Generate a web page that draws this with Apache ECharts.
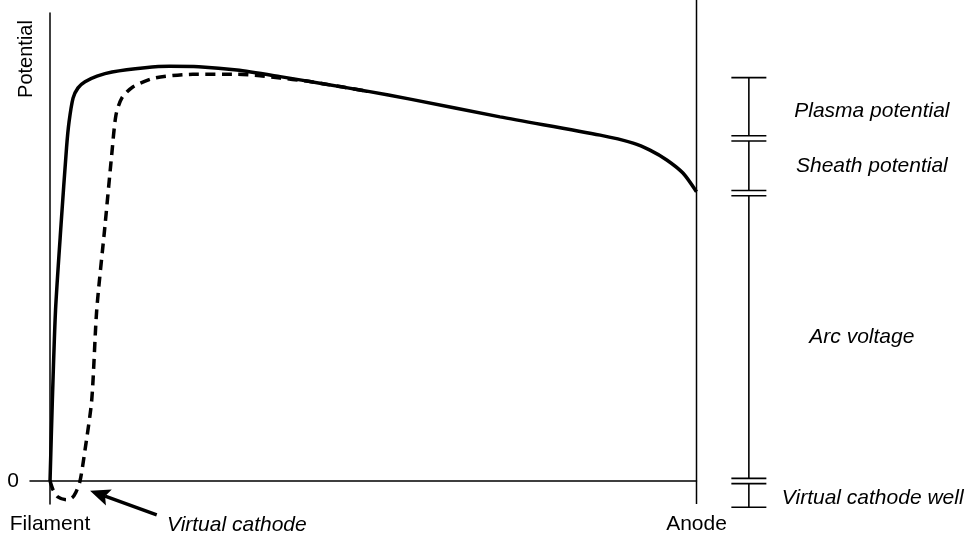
<!DOCTYPE html>
<html>
<head>
<meta charset="utf-8">
<script src="https://cdn.jsdelivr.net/npm/echarts@6/dist/echarts.min.js"></script>
<style>
  html, body { margin: 0; padding: 0; background: #fff; }
  #chart { width: 969px; height: 537px; }
</style>
</head>
<body>
<div id="chart"></div>
<script>
// Position across the discharge gap: 0 = filament, 100 = anode
// Potential in arbitrary units, 0 = filament potential

// Potential profile without space-charge limitation (solid)
const solidPos = [0, 0.36, 0.85, 1.70, 2.55, 2.94, 3.56, 4.33, 5.41, 7.27, 9.59, 14.7, 18.5, 23.0, 28.9, 35.6, 42.2, 49.0, 55.7, 69.6, 85.1, 90.2, 92.8, 95.4, 97.9, 100];
const solidPot = [0, 17.3, 36.5, 54.7, 71.2, 76.7, 81.8, 84.0, 85.3, 86.5, 87.4, 88.3, 88.6, 88.5, 87.8, 86.4, 84.9, 83.3, 81.6, 77.8, 73.9, 72.2, 70.7, 68.6, 65.8, 61.8];

// Potential profile with a virtual cathode in front of the filament (dashed)
const dashedPos = [0, 0.5, 1.2, 2.5, 3.4, 4.0, 4.64, 5.41, 6.45, 7.22, 8.51, 9.54, 10.2, 11.1, 12.8, 16.2, 22.1, 28.9, 32.5, 35.6, 39.4, 42.2, 49.0];
const dashedPot = [0, -2.0, -3.4, -4.0, -3.6, -2.4, 0, 6.6, 17.3, 36.5, 54.7, 69.7, 78.2, 81.8, 84.2, 86.1, 86.9, 86.9, 86.6, 86.1, 85.5, 84.9, 83.3];

// Levels marked on the potential scale (bottom to top) and the span names
const scaleLevels = [-5.6, 0, 61.5, 73.2, 86.2];
const scaleNames = ['Virtual cathode well', 'Arc voltage', 'Sheath potential', 'Plasma potential'];

// Axis tick labels
const xTickValues = [0, 100];
const xTickNames = ['Filament', 'Anode'];
const yTickValues = [0];

// Arrow pointing at the virtual cathode: tail and tip (position, potential)
const arrowTail = [16.5, -7.26];
const arrowTip = [6.19, -2.07];

const FONT = 'Liberation Sans, Arial, Helvetica, sans-serif';
const FS = 21;
const SCALE_X = 108.1;      // position of the potential scale, in gap units
const SCALE_GAP = 0.56;     // half gap between scale spans, in potential units
const CAP_HALF = 17.5;      // half width of scale caps, px
const HEAD_LEN = 20;        // arrow head length, px
const HEAD_HALF = 8.5;      // arrow head half width, px
const labelLayout = [
  { align: 'left', dx: 33, dy: 4 },
  { align: 'center', dx: 113, dy: 0 },
  { align: 'center', dx: 123, dy: 0 },
  { align: 'center', dx: 123, dy: 3 }
];

const toPairs = (xs, ys) => xs.map((x, i) => [x, ys[i]]);

const chart = echarts.init(document.getElementById('chart'), null, { renderer: 'canvas' });

const option = {
  animation: false,
  backgroundColor: '#fff',
  grid: { left: 30, right: 272.5, top: 13, bottom: 33.1, containLabel: false, outerBoundsMode: 'none' },
  xAxis: {
    type: 'value',
    min: -3.1,
    max: 100,
    axisLine: { show: true, onZero: true, lineStyle: { color: '#000', width: 1.5 } },
    axisTick: { show: false },
    splitLine: { show: false },
    axisLabel: {
      customValues: xTickValues,
      formatter: v => xTickNames[xTickValues.indexOf(v)] || '',
      color: '#000', fontFamily: FONT, fontSize: FS, margin: 10,
      showMinLabel: true, showMaxLabel: true, hideOverlap: false
    }
  },
  yAxis: {
    type: 'value',
    min: -4.9,
    max: 100,
    axisLine: { show: true, onZero: true, lineStyle: { color: '#000', width: 1.5 } },
    axisTick: { show: false },
    splitLine: { show: false },
    axisLabel: {
      customValues: yTickValues,
      formatter: v => String(v),
      color: '#000', fontFamily: FONT, fontSize: FS, margin: 11
    }
  },
  graphic: [
    {
      type: 'text',
      x: 26, y: 59,
      rotation: Math.PI / 2,
      style: { text: 'Potential', fill: '#000', font: '20px ' + FONT, align: 'center', verticalAlign: 'middle' }
    },
    {
      type: 'text',
      x: 167, y: 525,
      style: { text: 'Virtual cathode', fill: '#000', font: 'italic ' + FS + 'px ' + FONT, align: 'left', verticalAlign: 'middle' }
    }
  ],
  series: [
    {
      name: 'Anode',
      type: 'line',
      clip: false,
      silent: true,
      symbol: 'none',
      lineStyle: { color: '#000', width: 1.5 },
      data: [[100, -4.9], [100, 102.8]]
    },
    {
      name: 'With virtual cathode',
      type: 'line',
      clip: false,
      silent: true,
      symbol: 'none',
      smooth: 0.25,
      lineStyle: { color: '#000', width: 3.5, type: [10, 6.5] },
      data: toPairs(dashedPos, dashedPot)
    },
    {
      name: 'Without virtual cathode',
      type: 'line',
      clip: false,
      silent: true,
      symbol: 'none',
      smooth: 0.25,
      lineStyle: { color: '#000', width: 3.5 },
      data: toPairs(solidPos, solidPot)
    },
    {
      name: 'Arrow',
      type: 'custom',
      clip: false,
      silent: true,
      data: [[arrowTail[0], arrowTail[1], arrowTip[0], arrowTip[1]]],
      renderItem: function (params, api) {
        const a = api.coord([api.value(0), api.value(1)]);
        const b = api.coord([api.value(2), api.value(3)]);
        const dx = b[0] - a[0], dy = b[1] - a[1];
        const len = Math.sqrt(dx * dx + dy * dy);
        const ux = dx / len, uy = dy / len;
        const nx = -uy, ny = ux;
        const base = [b[0] - ux * HEAD_LEN, b[1] - uy * HEAD_LEN];
        const notch = [b[0] - ux * HEAD_LEN * 0.8, b[1] - uy * HEAD_LEN * 0.8];
        return {
          type: 'group',
          children: [
            { type: 'line', shape: { x1: a[0], y1: a[1], x2: notch[0], y2: notch[1] }, style: { stroke: '#000', lineWidth: 3.5 } },
            {
              type: 'polygon',
              shape: { points: [b, [base[0] + nx * HEAD_HALF, base[1] + ny * HEAD_HALF], notch, [base[0] - nx * HEAD_HALF, base[1] - ny * HEAD_HALF]] },
              style: { fill: '#000' }
            }
          ]
        };
      }
    },
    {
      name: 'Potential scale',
      type: 'custom',
      clip: false,
      silent: true,
      data: scaleNames.map((n, i) => [scaleLevels[i], scaleLevels[i + 1], i]),
      renderItem: function (params, api) {
        const i = api.value(2);
        const last = scaleNames.length - 1;
        const lo = i === 0 ? api.value(0) : api.value(0) + SCALE_GAP;
        const hi = i === last ? api.value(1) : api.value(1) - SCALE_GAP;
        const pLo = api.coord([SCALE_X, lo]);
        const pHi = api.coord([SCALE_X, hi]);
        const pMid = api.coord([SCALE_X, (api.value(0) + api.value(1)) / 2]);
        const st = { stroke: '#000', lineWidth: 1.6 };
        const lay = labelLayout[i];
        return {
          type: 'group',
          children: [
            { type: 'line', shape: { x1: pLo[0], y1: pLo[1], x2: pHi[0], y2: pHi[1] }, style: st },
            { type: 'line', shape: { x1: pLo[0] - CAP_HALF, y1: pLo[1], x2: pLo[0] + CAP_HALF, y2: pLo[1] }, style: st },
            { type: 'line', shape: { x1: pHi[0] - CAP_HALF, y1: pHi[1], x2: pHi[0] + CAP_HALF, y2: pHi[1] }, style: st },
            {
              type: 'text',
              x: pMid[0] + lay.dx,
              y: pMid[1] + lay.dy,
              style: {
                text: scaleNames[i], fill: '#000',
                font: 'italic ' + FS + 'px ' + FONT,
                align: lay.align, verticalAlign: 'middle'
              }
            }
          ]
        };
      }
    }
  ]
};

chart.setOption(option);
</script>
</body>
</html>
